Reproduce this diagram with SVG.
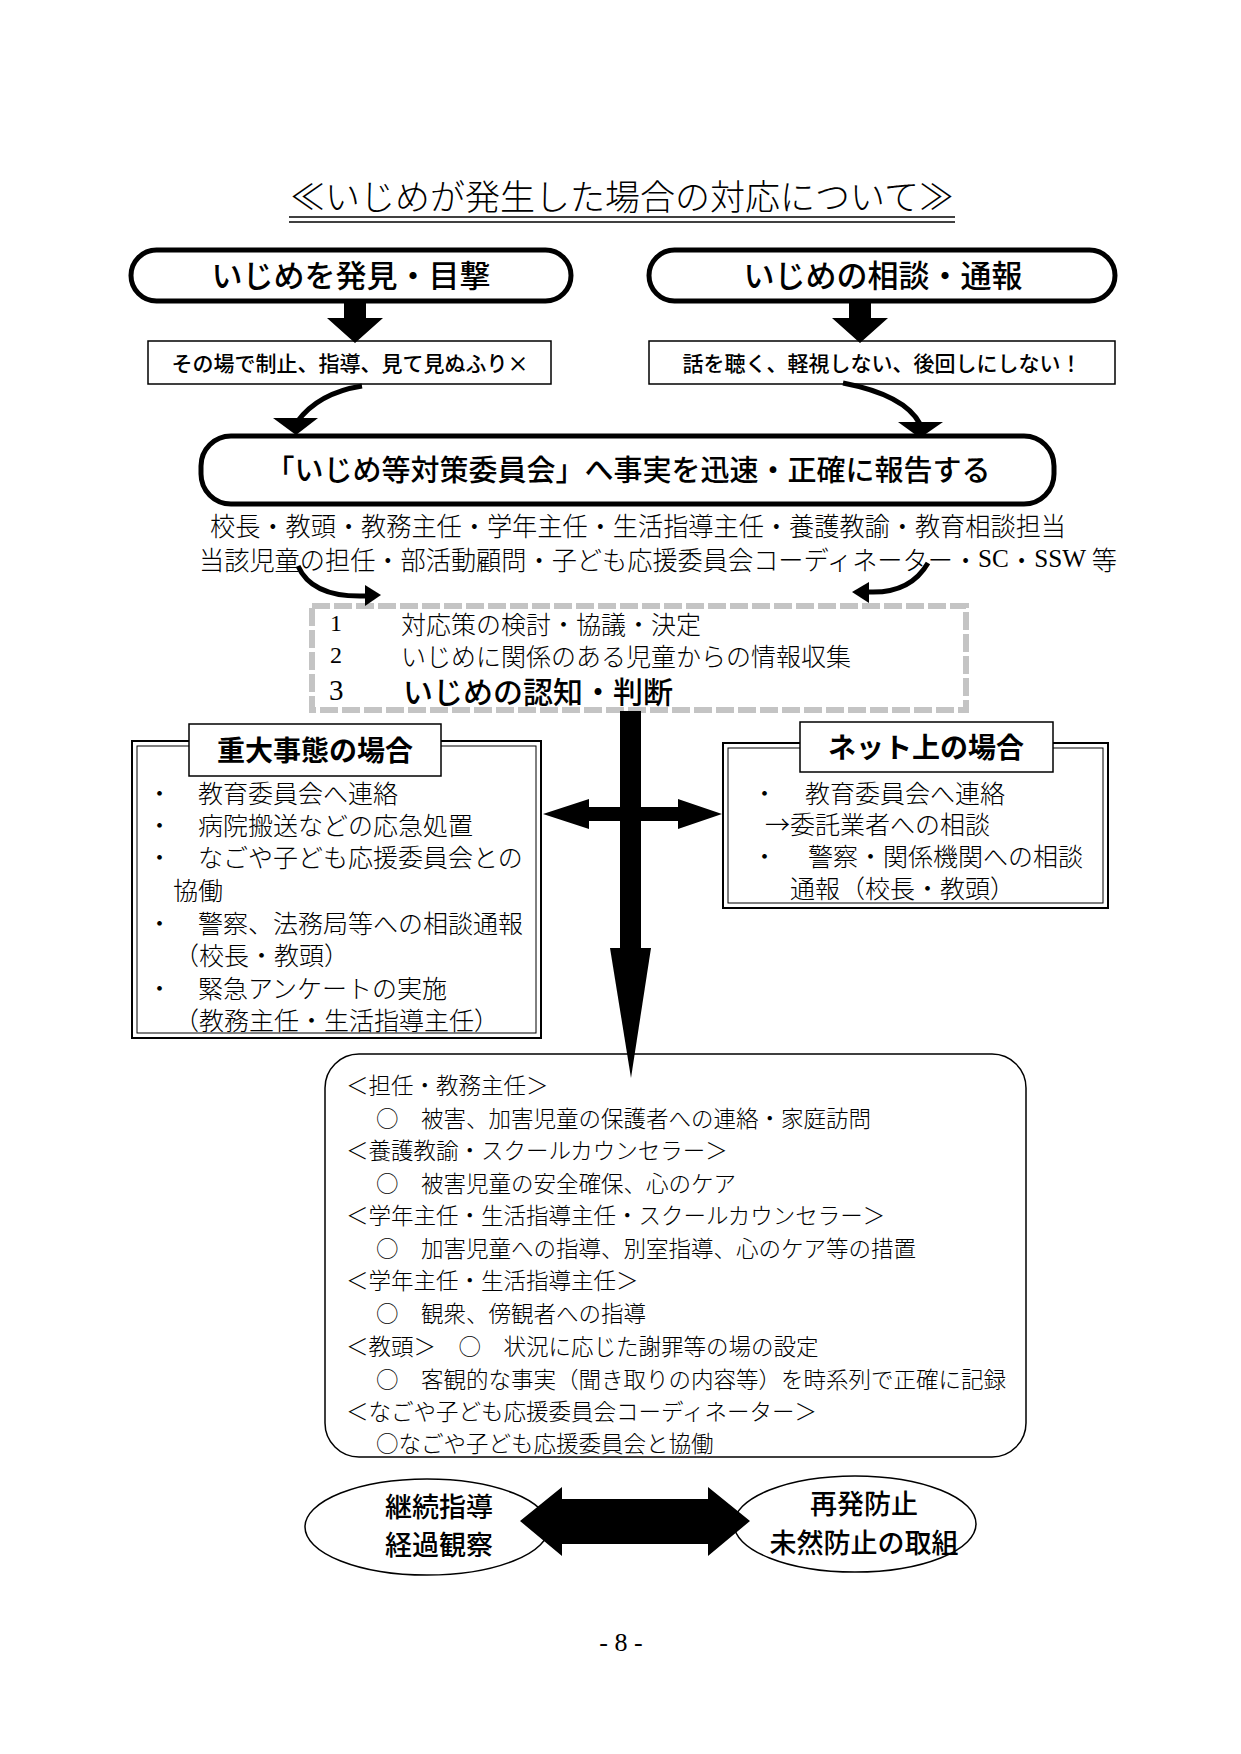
<svg xmlns="http://www.w3.org/2000/svg" width="1241" height="1754" viewBox="0 0 1241 1754">
<style>
text{font-family:'Noto Sans CJK JP',sans-serif;fill:#000;dominant-baseline:central}
.lt{font-weight:300}
.bd{font-weight:700}
.md{font-weight:500}
.ser{font-family:'Liberation Serif',serif}
.thick{fill:#fff;stroke:#000;stroke-width:5}
.thin{fill:#fff;stroke:#000;stroke-width:1.5}
.blk{fill:#000;stroke:none}
.li{font-weight:300;font-size:25px}
.bx{font-weight:300;font-size:22.5px}
</style>
<rect width="1241" height="1754" fill="#fff"/>

<g id="title">
<text x="622" y="194" font-size="35" text-anchor="middle" class="lt">≪いじめが発生した場合の対応について≫</text>
<line x1="289" y1="217" x2="955" y2="217" stroke="#000" stroke-width="1.5"/>
<line x1="289" y1="222" x2="955" y2="222" stroke="#000" stroke-width="1.5"/>
</g>

<g id="discover">
<rect x="131" y="250" width="440" height="51" rx="25.5" class="thick"/>
<text x="351" y="273" font-size="31" text-anchor="middle" class="md">いじめを発見・目撃</text>
</g>
<g id="consult">
<rect x="649" y="250" width="466" height="51" rx="25.5" class="thick"/>
<text x="883" y="273" font-size="31" text-anchor="middle" class="md">いじめの相談・通報</text>
</g>

<g id="stop">
<rect x="148" y="341" width="403" height="43" class="thin"/>
<text x="350" y="362" font-size="21" text-anchor="middle" class="md">その場で制止、指導、見て見ぬふり×</text>
</g>
<g id="listen">
<rect x="649" y="341" width="466" height="43" class="thin"/>
<text x="882" y="362" font-size="21" text-anchor="middle" class="md">話を聴く、軽視しない、後回しにしない！</text>
</g>

<g id="report">
<rect x="201" y="436" width="853" height="68" rx="30" class="thick" stroke-width="6"/>
<text x="628" y="468" font-size="29" text-anchor="middle" class="md">「いじめ等対策委員会」へ事実を迅速・正確に報告する</text>
</g>

<g id="members">
<text x="210" y="524" font-size="26" class="lt" textLength="856" lengthAdjust="spacingAndGlyphs">校長・教頭・教務主任・学年主任・生活指導主任・養護教諭・教育相談担当</text>
<text x="199" y="558" font-size="26" class="lt" textLength="918" lengthAdjust="spacingAndGlyphs">当該児童の担任・部活動顧問・子ども応援委員会コーディネーター・<tspan class="ser">SC</tspan>・<tspan class="ser">SSW </tspan>等</text>
</g>

<g id="committee">
<rect x="312" y="606" width="654" height="104" fill="#fff" stroke="#c4c4c4" stroke-width="6" stroke-dasharray="18 4"/>
<text x="330" y="623" font-size="24" class="ser">1</text>
<text x="401" y="623" class="li">対応策の検討・協議・決定</text>
<text x="330" y="655" font-size="24" class="ser">2</text>
<text x="401" y="655" class="li">いじめに関係のある児童からの情報収集</text>
<text x="329" y="690" font-size="29" class="ser">3</text>
<text x="403" y="690" font-size="30" class="md">いじめの認知・判断</text>
</g>

<g id="serious">
<rect x="132" y="741" width="409" height="297" fill="#fff" stroke="#000" stroke-width="2"/>
<rect x="137" y="746" width="399" height="287" fill="none" stroke="#000" stroke-width="1"/>
<rect x="189" y="724" width="252" height="52" class="thin"/>
<text x="315" y="749" font-size="28" text-anchor="middle" class="bd">重大事態の場合</text>
<text x="147" y="792" class="li">・</text><text x="198" y="792" class="li">教育委員会へ連絡</text>
<text x="147" y="824" class="li">・</text><text x="198" y="824" class="li">病院搬送などの応急処置</text>
<text x="147" y="856" class="li">・</text><text x="198" y="856" class="li">なごや子ども応援委員会との</text>
<text x="173" y="889" class="li">協働</text>
<text x="147" y="922" class="li">・</text><text x="198" y="922" class="li">警察、法務局等への相談通報</text>
<text x="174" y="954" class="li">（校長・教頭）</text>
<text x="147" y="987" class="li">・</text><text x="198" y="987" class="li">緊急アンケートの実施</text>
<text x="174" y="1019" class="li">（教務主任・生活指導主任）</text>
</g>

<g id="online">
<rect x="723" y="743" width="385" height="165" fill="#fff" stroke="#000" stroke-width="2"/>
<rect x="728" y="748" width="375" height="155" fill="none" stroke="#000" stroke-width="1"/>
<rect x="800" y="722" width="253" height="50" class="thin"/>
<text x="926" y="746" font-size="28" text-anchor="middle" class="bd">ネット上の場合</text>
<text x="752" y="792" class="li">・</text><text x="805" y="792" class="li">教育委員会へ連絡</text>
<text x="765" y="823" class="li">→委託業者への相談</text>
<text x="752" y="855" class="li">・</text><text x="808" y="855" class="li">警察・関係機関への相談</text>
<text x="790" y="887" class="li">通報（校長・教頭）</text>
</g>

<g id="actions">
<rect x="325" y="1054" width="701" height="403" rx="34" class="thin"/>
<text x="346" y="1084" class="bx">＜担任・教務主任＞</text>
<text x="376" y="1117" class="bx">○　被害、加害児童の保護者への連絡・家庭訪問</text>
<text x="346" y="1149" class="bx">＜養護教諭・スクールカウンセラー＞</text>
<text x="376" y="1182" class="bx">○　被害児童の安全確保、心のケア</text>
<text x="346" y="1214" class="bx">＜学年主任・生活指導主任・スクールカウンセラー＞</text>
<text x="376" y="1247" class="bx">○　加害児童への指導、別室指導、心のケア等の措置</text>
<text x="346" y="1279" class="bx">＜学年主任・生活指導主任＞</text>
<text x="376" y="1312" class="bx">○　観衆、傍観者への指導</text>
<text x="346" y="1345" class="bx">＜教頭＞　○　状況に応じた謝罪等の場の設定</text>
<text x="376" y="1378" class="bx">○　客観的な事実（聞き取りの内容等）を時系列で正確に記録</text>
<text x="346" y="1410" class="bx">＜なごや子ども応援委員会コーディネーター＞</text>
<text x="376" y="1442" class="bx">○なごや子ども応援委員会と協働</text>
</g>

<g id="follow">
<ellipse cx="427" cy="1527" rx="122" ry="48" class="thin" stroke-width="1"/>
<text x="439" y="1505" font-size="27" text-anchor="middle" class="md">継続指導</text>
<text x="439" y="1543" font-size="27" text-anchor="middle" class="md">経過観察</text>
</g>
<g id="prevent">
<ellipse cx="855" cy="1524" rx="121" ry="48" class="thin" stroke-width="1"/>
<text x="864" y="1502" font-size="27" text-anchor="middle" class="md">再発防止</text>
<text x="864" y="1541" font-size="27" text-anchor="middle" class="md">未然防止の取組</text>
</g>

<g id="connectors">
<polygon class="blk" points="344,301 366,301 366,318 383,318 355,343 327,318 344,318"/>
<polygon class="blk" points="849,301 871,301 871,318 888,318 860,343 832,318 849,318"/>
<path d="M362,386 Q318,393 297,422" fill="none" stroke="#000" stroke-width="5"/>
<polygon class="blk" points="273,418 318,418 296,435"/>
<path d="M843,383 Q905,395 920,424" fill="none" stroke="#000" stroke-width="5"/>
<polygon class="blk" points="898,422 943,422 920,438"/>
<path d="M298,566 Q312,598 366,596" fill="none" stroke="#000" stroke-width="5"/>
<polygon class="blk" points="365,585 365,606 381,595"/>
<path d="M928,563 Q910,594 868,592" fill="none" stroke="#000" stroke-width="5"/>
<polygon class="blk" points="869,582 869,603 852,592"/>
<rect class="blk" x="620" y="711" width="21" height="238"/>
<polygon class="blk" points="610,948 651,948 631,1078"/>
<polygon class="blk" points="543,814 589,799 589,807 678,807 678,799 722,814 678,829 678,821 589,821 589,829"/>
<polygon class="blk" points="520,1521 562,1487 562,1499 708,1499 708,1487 750,1521 708,1556 708,1544 562,1544 562,1556"/>
</g>

<text x="621" y="1642" font-size="26" text-anchor="middle" class="ser">- 8 -</text>
</svg>
